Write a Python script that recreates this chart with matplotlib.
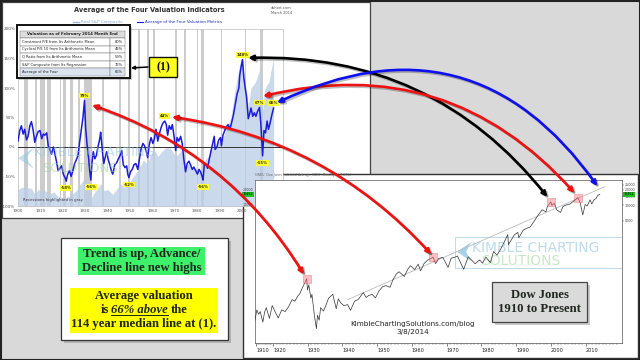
import numpy as np
import matplotlib.pyplot as plt
from matplotlib.patches import Rectangle, ConnectionPatch, Polygon
from matplotlib.lines import Line2D
import matplotlib.patheffects as pe

W, H = 640, 360

# ---- top chart: average of the four valuation indicators (% vs mean) ----
val_years = [1900.0, 1900.8, 1901.5, 1902.3, 1903.0, 1903.8, 1904.5, 1905.3, 1906.0, 1906.7,
             1907.5, 1908.2, 1909.0, 1909.8, 1910.6, 1911.3, 1912.0, 1912.8, 1913.5, 1914.3,
             1915.0, 1915.8, 1916.5, 1917.2, 1917.9, 1918.7, 1919.5, 1920.2, 1921.0, 1921.5,
             1922.2, 1923.0, 1923.7, 1924.5, 1925.3, 1926.0, 1926.8, 1927.5, 1928.3, 1929.0,
             1929.7, 1930.2, 1930.8, 1931.5, 1932.0, 1932.5, 1933.0, 1933.6, 1934.3, 1935.0,
             1935.8, 1936.5, 1936.9, 1937.7, 1938.3, 1938.9, 1939.6, 1940.3, 1941.0, 1941.8,
             1942.3, 1943.2, 1944.0, 1944.8, 1945.6, 1946.3, 1947.0, 1947.8, 1948.5, 1949.0,
             1949.5, 1950.2, 1951.0, 1951.8, 1952.6, 1953.5, 1954.3, 1955.0, 1955.8, 1956.5,
             1957.3, 1957.9, 1958.6, 1959.4, 1960.2, 1960.9, 1961.6, 1962.4, 1963.1, 1963.8,
             1964.6, 1965.5, 1966.2, 1966.8, 1967.5, 1968.3, 1968.9, 1969.6, 1970.4, 1971.0,
             1971.8, 1972.6, 1973.3, 1974.0, 1974.8, 1975.5, 1976.3, 1977.0, 1977.8, 1978.5,
             1979.3, 1980.1, 1980.8, 1981.5, 1982.2, 1982.6, 1983.2, 1984.0, 1984.6, 1985.3,
             1986.0, 1986.8, 1987.6, 1988.0, 1988.8, 1989.6, 1990.4, 1990.8, 1991.5, 1992.3,
             1993.0, 1993.8, 1994.6, 1995.4, 1996.2, 1997.0, 1997.8, 1998.6, 1999.0, 1999.6,
             2000.2, 2000.8, 2001.5, 2002.0, 2002.8, 2003.4, 2004.0, 2004.8, 2005.5, 2006.2,
             2006.9, 2007.8, 2008.4, 2008.9, 2009.2, 2009.8, 2010.5, 2011.2, 2011.8, 2012.5,
             2013.3, 2014.1]
val_pct = [10, 28, 36, 22, 30, 12, 18, 36, 43, 30,
           8, 18, 26, 28, 14, 22, 20, 24, 2, -5,
           -12, 0, -12, -25, -40, -36, -32, -46, -52, -58,
           -46, -40, -50, -40, -28, -22, -14, 8, 30, 50,
           79, 32, 5, -18, -40, -56, -28, -8, -20, -14,
           2, 14, 25, -8, -28, -18, -8, -22, -30, -42,
           -46, -30, -27, -20, -14, -6, -30, -35, -32, -46,
           -52, -42, -38, -30, -28, -38, -18, -2, 6, 2,
           -8, -18, 4, 16, 6, 14, 30, 10, 22, 32,
           40, 44, 38, 20, 36, 30, 38, 20, -6, 16,
           10, 18, 6, -20, -42, -28, -24, -30, -38, -34,
           -40, -46, -38, -42, -50, -56, -28, -30, -36, -22,
           -10, 4, 18, -4, 0, 12, 16, 2, 20, 28,
           34, 38, 30, 42, 55, 72, 90, 100, 122, 136,
           148, 118, 98, 86, 48, 56, 66, 52, 58, 52,
           60, 67, 40, 5, -15, 28, 24, 44, 30, 40,
           54, 66]

# Real S&P Composite, shaded in the background (plotted in the same % frame)
sp_years = [1900, 1902, 1906, 1907.5, 1909, 1912, 1914, 1916, 1917.9, 1920, 1921.5, 1924,
            1926, 1928, 1929.7, 1930.5, 1932.5, 1934, 1937, 1938.3, 1940, 1942.3, 1946,
            1947, 1949, 1950, 1952, 1954, 1956, 1957.8, 1959, 1961, 1962.5, 1966, 1968,
            1970.4, 1973, 1974.8, 1976, 1978, 1980, 1982.6, 1983.5, 1985, 1987.6, 1988,
            1990, 1991, 1993, 1995, 1997, 1999, 2000.2, 2001, 2002.8, 2004, 2006, 2007.8,
            2009.2, 2010, 2011, 2012, 2013, 2014.1]
sp_level = [-72, -68, -70, -80, -72, -74, -80, -76, -84, -86, -86, -80,
            -74, -62, -54, -64, -88, -78, -62, -74, -72, -80, -62,
            -68, -66, -58, -48, -36, -22, -30, -14, -6, -16, 0, -2,
            -16, -6, -38, -28, -36, -36, -42, -22, -16, 10, 0,
            10, 12, 30, 50, 100, 140, 155, 120, 70, 100, 110, 130,
            60, 95, 105, 110, 130, 150]

rec_start = [1902.7, 1907.4, 1910.0, 1913.0, 1918.6, 1920.0, 1923.4, 1926.8, 1929.6, 1937.4,
             1945.1, 1948.9, 1953.5, 1957.6, 1960.3, 1969.9, 1973.9, 1980.0, 1981.5, 1990.5,
             2001.2, 2007.9]
rec_end = [1904.6, 1908.5, 1912.0, 1914.9, 1919.2, 1921.5, 1924.5, 1927.9, 1933.2, 1938.5,
           1945.8, 1949.8, 1954.4, 1958.3, 1961.1, 1970.9, 1975.2, 1980.5, 1982.9, 1991.2,
           2001.9, 2009.5]

peak_labels = ["79%", "-58%", "-56%", "-52%", "44%", "-56%", "148%", "67%", "-15%", "66%"]
peak_years = [1929.7, 1921.5, 1932.5, 1949.5, 1965.5, 1982.6, 2000.2, 2007.8, 2009.2, 2014.1]
peak_vals = [79, -58, -56, -52, 44, -56, 148, 67, -15, 66]

table_rows = ["Crestmont P/E from Its Arithmetic Mean", "Cyclical P/E 10 from Its Arithmetic Mean",
              "Q Ratio from Its Arithmetic Mean", "S&P Composite from Its Regression",
              "Average of the Four"]
table_vals = ["80%", "49%", "59%", "76%", "66%"]

# ---- bottom chart: Dow Jones Industrial Average ----
dow_years = [1909.4, 1910.5, 1911.5, 1912.5, 1914.0, 1915.0, 1916.0, 1917.9, 1919.5, 1921.5,
             1922.5, 1923.5, 1924.5, 1925.5, 1926.3, 1927.0, 1927.8, 1928.5, 1929.0, 1929.7,
             1929.9, 1930.3, 1930.9, 1931.2, 1931.9, 1932.5, 1932.8, 1933.3, 1933.7, 1934.5,
             1935.3, 1936.0, 1937.2, 1938.2, 1938.8, 1939.5, 1940.4, 1941.5, 1942.3, 1943.5,
             1944.5, 1946.0, 1946.8, 1947.5, 1948.5, 1949.5, 1950.5, 1951.5, 1952.5, 1953.7,
             1954.5, 1955.5, 1956.3, 1957.8, 1958.8, 1959.6, 1960.8, 1961.8, 1962.5, 1963.5,
             1964.5, 1966.1, 1966.8, 1967.7, 1968.9, 1970.4, 1971.3, 1972.5, 1973.1, 1974.9,
             1976.2, 1977.0, 1978.2, 1979.5, 1980.3, 1981.3, 1982.6, 1983.5, 1984.5, 1985.5,
             1986.5, 1987.6, 1987.8, 1989.5, 1990.5, 1990.8, 1992.0, 1993.0, 1994.0, 1995.0,
             1996.0, 1997.5, 1998.6, 1999.0, 2000.0, 2000.3, 2001.0, 2001.7, 2002.8, 2003.5,
             2004.5, 2005.5, 2006.5, 2007.8, 2008.5, 2008.9, 2009.2, 2009.9, 2010.5, 2011.3,
             2011.8, 2012.5, 2013.0, 2013.5, 2014.1]
dow_vals = [60, 95, 78, 88, 55, 85, 105, 65, 115, 66,
            95, 88, 110, 150, 140, 170, 200, 260, 300, 381,
            230, 290, 160, 190, 75, 41, 75, 60, 105, 90,
            120, 160, 190, 100, 155, 130, 115, 120, 93, 140,
            150, 205, 165, 180, 190, 162, 220, 265, 280, 260,
            360, 470, 520, 420, 580, 680, 570, 730, 540, 750,
            870, 995, 745, 940, 985, 630, 950, 1000, 1050, 580,
            1010, 900, 740, 880, 760, 1000, 780, 1280, 1090, 1400,
            1900, 2720, 1740, 2700, 2999, 2360, 3300, 3600, 3800, 4700,
            6000, 8200, 7500, 9500, 11700, 10000, 11000, 8200, 7300, 9500,
            10200, 10600, 12000, 14160, 11000, 8000, 6550, 10400, 9800, 12800,
            10700, 13000, 13500, 15500, 16452]
trend_years = [1941.5, 2015.5]
trend_vals = [150, 23000]
mark_years = [1929.7, 1966.1, 2000.0, 2007.8]
mark_vals = [381, 995, 11700, 14160]

# arrows: (top year, top value) -> (dow year, dow value)
arrow_top = [(1933.0, 71), (1968.7, 51), (2002.7, 151), (2009.4, 86), (2015.6, 75)]
arrow_dow = [(1928.9, 460), (1965.6, 1120), (1999.0, 14600), (2006.8, 17400), (2013.4, 23700)]
arrow_col = ['#ee1111', '#ee1111', 'black', '#ee1111', '#1010ee']
arrow_rad = [-0.18, -0.18, -0.25, -0.3, -0.42]


def rect(x0, y0, x1, y1, **kw):
    return Rectangle((x0 / W, 1 - y1 / H), (x1 - x0) / W, (y1 - y0) / H,
                     transform=fig.transFigure, **kw)


def ptxt(x, y, s, **kw):
    return fig.text(x / W, 1 - y / H, s, **kw)


def pbox(x0, y0, x1, y1):
    return [x0 / W, 1 - y1 / H, (x1 - x0) / W, (y1 - y0) / H]


fig = plt.figure(figsize=(6.4, 3.6), dpi=100)
fig.patch.set_facecolor('#d9d9d9')
fig.add_artist(rect(0.5, 0.5, 639.5, 359.5, fc='none', ec='#222222', lw=1.5, zorder=30))

# ---------------- top panel ----------------
fig.add_artist(rect(2, 2, 370, 218, fc='white', ec='#444444', lw=0.9, zorder=-5))
ax1 = fig.add_axes(pbox(18, 29, 283, 206))
ax1.set_xlim(1900, 2018.3)
ax1.set_ylim(-100, 200)
for s, e in zip(rec_start, rec_end):
    ax1.axvspan(s, e, color='#cccccc', lw=0, zorder=1)
ax1.fill_between(sp_years, -100, sp_level, color='#b9cde6', alpha=0.75, lw=0, zorder=2)
ax1.axhline(0, color='#333333', lw=0.7, zorder=3)
ax1.plot(val_years, val_pct, color='#1c1cd8', lw=1.1, zorder=4)
ax1.set_yticks(range(-100, 201, 50))
ax1.set_yticklabels([f"{v}%" for v in range(-100, 201, 50)])
ax1.set_xticks(range(1900, 2011, 10))
ax1.tick_params(length=0, labelsize=3, colors='#555555', pad=2)
for sp in ax1.spines.values():
    sp.set_color('#bbbbbb')
    sp.set_linewidth(0.5)
for lbl, yr, v in zip(peak_labels, peak_years, peak_vals):
    off = 3.5 if v > 0 else -5
    ax1.annotate(lbl, xy=(yr, v), xytext=(0, off), textcoords='offset points',
                 ha='center', va='center', fontsize=2.8, fontweight='bold', color='#333300',
                 bbox=dict(boxstyle='square,pad=0.2', fc='#ffff33', ec='none'), zorder=6)
ax1.text(0.02, 0.03, "Recessions highlighted in gray", transform=ax1.transAxes,
         fontsize=2.8, color='#333333', zorder=6)
# watermark
ax1.text(0.06, 0.3, "KIMBLE CHARTING", transform=ax1.transAxes, fontsize=9.5,
         color='#8ec4de', alpha=0.55, va='center', zorder=5)
ax1.text(0.09, 0.21, "SOLUTIONS", transform=ax1.transAxes, fontsize=9.5,
         color='#9fd19a', alpha=0.55, va='center', zorder=5)
ax1.add_patch(Polygon([(0.0, 0.27), (0.06, 0.33), (0.03, 0.27), (0.06, 0.21)],
                      closed=True, transform=ax1.transAxes, fc='#8ec4de', alpha=0.5, zorder=5))

ptxt(149, 10, "Average of the Four Valuation Indicators", ha='center', va='center',
     fontsize=4.8, fontweight='bold', color='#333333')
ptxt(271, 8, "dshort.com", fontsize=2.6, color='#555555', va='center')
ptxt(271, 13.5, "March 2014", fontsize=2.6, color='#555555', va='center')
fig.add_artist(Line2D([73 / W, 79 / W], [1 - 22 / H] * 2, color='#9fb7e0', lw=1))
ptxt(81, 22, "Real S&P Composite", fontsize=3, color='#8aa6d8', va='center')
fig.add_artist(Line2D([137 / W, 143 / W], [1 - 22 / H] * 2, color='#1c1cd8', lw=0.8))
ptxt(145, 22, "Average of the Four Valuation Metrics", fontsize=3, color='#2030c0', va='center')

# valuation table
fig.add_artist(rect(19, 27, 132, 80, fc='#999999', ec='none', alpha=0.5, zorder=4))
fig.add_artist(rect(17, 25, 130, 78, fc='white', ec='#111111', lw=1.4, zorder=5))
fig.add_artist(rect(20, 31, 125, 38, fc='#dcdcdc', ec='#666666', lw=0.3, zorder=6))
ptxt(72.5, 34.5, "Valuation as of February 2014 Month End", ha='center', va='center',
     fontsize=2.8, fontweight='bold', color='#222222', zorder=7)
row_h = 7.6
for i, (name, val) in enumerate(zip(table_rows, table_vals)):
    y0 = 38 + i * row_h
    fc = '#dce4f0' if i == len(table_rows) - 1 else 'white'
    fig.add_artist(rect(20, y0, 110, y0 + row_h, fc=fc, ec='#666666', lw=0.3, zorder=6))
    fig.add_artist(rect(110, y0, 125, y0 + row_h, fc=fc, ec='#666666', lw=0.3, zorder=6))
    ptxt(22, y0 + row_h / 2, name, va='center', fontsize=2.6, color='#222222', zorder=7)
    ptxt(123, y0 + row_h / 2, val, va='center', ha='right', fontsize=2.6, color='#222222', zorder=7)

# (1) marker
fig.add_artist(rect(149, 57, 177, 77, fc='#ffff22', ec='#111111', lw=1, zorder=6))
ptxt(163, 67, "(1)", ha='center', va='center', fontsize=8.5, fontweight='bold',
     family='Liberation Serif', color='#111111', zorder=7)
fig.add_artist(ConnectionPatch((148 / W, 1 - 67 / H), (131 / W, 1 - 68 / H), 'figure fraction',
                               arrowstyle='-|>', mutation_scale=5, lw=1.1, color='black', zorder=7))

# ---------------- bottom-left text box ----------------
fig.add_artist(rect(64, 241, 231, 343, fc='#888888', ec='none', alpha=0.5, zorder=4))
fig.add_artist(rect(61, 238, 228, 340, fc='white', ec='#333333', lw=0.9, zorder=5))
fig.add_artist(rect(78, 247, 205, 275, fc='#3df26a', ec='none', zorder=6))
fig.add_artist(rect(70, 288, 218, 333, fc='#ffff00', ec='none', zorder=6))
serif = dict(family='Liberation Serif', fontweight='bold', fontsize=9.1, color='#1e261e',
             va='center', zorder=7)
ptxt(141.5, 254.5, "Trend is up, Advance/", ha='center', **serif)
ptxt(141.5, 268, "Decline line new highs", ha='center', **serif)
ptxt(144, 296, "Average valuation", ha='center', **serif)
ptxt(144, 324, "114 year median line at (1).", ha='center', **serif)
# middle line with italic, underlined part
r = fig.canvas.get_renderer()
pieces = [("is", 'normal'), ("66% above", 'italic'), ("the", 'normal')]
texts = [ptxt(0, 310, s, style=st, ha='left', **serif) for s, st in pieces]
widths = [t.get_window_extent(r).width for t in texts]
gap = 2.8
x = 144 - (sum(widths) + 2 * gap) / 2
for t, w in zip(texts, widths):
    t.set_x(x / W)
    if t.get_text().startswith("66"):
        fig.add_artist(Line2D([x / W, (x + w) / W], [1 - 315 / H] * 2, color='#1e261e',
                              lw=0.7, zorder=7))
    x += w + gap

# ---------------- Dow Jones panel ----------------
fig.add_artist(rect(243, 174, 638, 358, fc='white', ec='#333333', lw=1, zorder=-5))


def dow_fwd(x):
    x = np.asarray(x, float)
    return np.where(x < 1920, (x - 1920) * 0.49, x - 1920)


def dow_inv(p):
    p = np.asarray(p, float)
    return np.where(p < 0, p / 0.49 + 1920, p + 1920)


ax2 = fig.add_axes(pbox(255, 180, 622, 343))
ax2.set_xscale('function', functions=(dow_fwd, dow_inv))
ax2.set_yscale('log')
ax2.set_xlim(1909.4, 2020.5)
ax2.set_ylim(21.7, 31000)
ax2.plot(trend_years, trend_vals, color='#bbbbbb', lw=0.6, zorder=2)
ax2.plot(dow_years, dow_vals, color='#333333', lw=0.5, zorder=3)
ax2.plot(mark_years, mark_vals, 's', ms=5.5, mfc=(1, 0.45, 0.5, 0.45), mec=(0.9, 0.3, 0.3, 0.6),
         mew=0.4, zorder=4)
ax2.set_xticks(range(1910, 2011, 10))
ax2.set_xticks(range(1910, 2020), minor=True)
ax2.xaxis.set_major_formatter(plt.FuncFormatter(lambda v, p: f"{v:.0f}"))
ax2.xaxis.set_minor_formatter(plt.NullFormatter())
ax2.tick_params(axis='x', which='major', labelsize=3.6, colors='#222222', length=2, width=0.4, pad=1.5)
ax2.tick_params(axis='x', which='minor', length=1.2, width=0.3, colors='#555555')
for lbl in ax2.get_xticklabels():
    lbl.set_ha('left')
ax2.yaxis.tick_right()
ax2.set_yticks([5000, 10000, 15000, 20000, 25000])
ax2.set_yticklabels(["5000", "10000", "15000", "20000", "25000"])
ax2.yaxis.set_minor_formatter(plt.NullFormatter())
ax2.tick_params(axis='y', which='both', labelsize=2.4, length=1.2, width=0.3, colors='#444444', pad=1)
ax2.tick_params(axis='y', which='minor', length=0)
for sp in ax2.spines.values():
    sp.set_color('#555555')
    sp.set_linewidth(0.5)
ytr = ax2.get_yaxis_transform()
for v in [10000, 20000]:
    ax2.text(-0.005, v, str(v), transform=ytr, ha='right', va='center', fontsize=2.4, color='#444444')
for xa, ha in [(-0.004, 'right'), (1.004, 'left')]:
    ax2.text(xa, dow_vals[-1], f"{dow_vals[-1]}", transform=ytr, ha=ha, va='center', fontsize=2.4,
             color='black', bbox=dict(boxstyle='square,pad=0.15', fc='#22c022', ec='none'))
ax2.text(0.0, 1.02, "$INDU  Dow Jones Industrial Average  INDX   Monthly   3/7/2014",
         transform=ax2.transAxes, fontsize=2.2, color='#666666', va='bottom')
# watermark
ax2.add_patch(Rectangle((0.545, 0.46), 0.455, 0.19, transform=ax2.transAxes, fc='none',
                        ec='#b5d5e8', lw=0.6, zorder=1))
ax2.text(0.59, 0.585, "KIMBLE CHARTING", transform=ax2.transAxes, fontsize=10,
         color='#8ec4de', alpha=0.6, va='center', zorder=1)
ax2.text(0.615, 0.505, "SOLUTIONS", transform=ax2.transAxes, fontsize=10,
         color='#a8d6a2', alpha=0.6, va='center', zorder=1)
ax2.add_patch(Polygon([(0.55, 0.56), (0.59, 0.62), (0.575, 0.56), (0.59, 0.50)],
                      closed=True, transform=ax2.transAxes, fc='#6fb4d8', alpha=0.6, zorder=1))
ax2.text(0.43, 0.115, "KimbleChartingSolutions.com/blog", transform=ax2.transAxes,
         ha='center', va='center', fontsize=5.2, color='#222222', zorder=5)
ax2.text(0.43, 0.065, "3/8/2014", transform=ax2.transAxes,
         ha='center', va='center', fontsize=5.2, color='#222222', zorder=5)

fig.add_artist(rect(495, 285, 590, 325, fc='#999999', ec='none', alpha=0.5, zorder=4))
fig.add_artist(rect(492, 282, 587, 322, fc='#dadada', ec='#444444', lw=0.9, zorder=5))
ptxt(539.5, 295, "Dow Jones", ha='center', **serif)
ptxt(539.5, 309, "1910 to Present", ha='center', **serif)

# ---------------- linking arrows ----------------
shadow = [pe.SimpleLineShadow(offset=(1.2, -1.2), shadow_color='black', alpha=0.25), pe.Normal()]
for a, b, c, rad in zip(arrow_top, arrow_dow, arrow_col, arrow_rad):
    con = ConnectionPatch(xyA=a, coordsA='data', axesA=ax1, xyB=b, coordsB='data', axesB=ax2,
                          arrowstyle='<|-|>', connectionstyle=f'arc3,rad={rad}',
                          color=c, lw=1.9, mutation_scale=7, zorder=20)
    con.set_path_effects(shadow)
    fig.add_artist(con)

fig.savefig('out.png', dpi=100, facecolor=fig.get_facecolor())
